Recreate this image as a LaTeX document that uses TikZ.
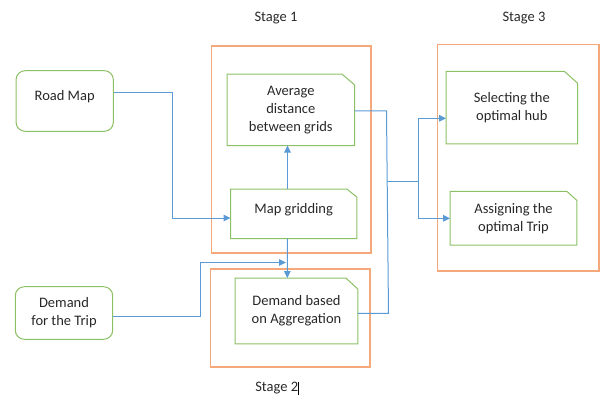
\documentclass[tikz,border=0pt]{standalone}
\usepackage{fontspec}
\setmainfont{Carlito}
\usetikzlibrary{arrows.meta}
\definecolor{orng}{RGB}{245,168,122}
\definecolor{grn}{RGB}{140,192,100}
\definecolor{blu}{RGB}{91,155,213}
\definecolor{txt}{RGB}{40,40,40}
\begin{document}
\begin{tikzpicture}[x=1pt,y=-1pt,
  font=\fontsize{14.5}{18}\selectfont, text=txt,
  stagebox/.style={draw=orng, line width=1.3pt, inner sep=0pt},
  proc/.style={inner sep=0pt, align=center},
  procline/.style={draw=grn, line width=1pt},
  src/.style={draw=grn, line width=1pt, rounded corners=9pt, align=center, inner sep=0pt},
  conn/.style={draw=blu, line width=1pt},
  arr/.style={conn, -{Triangle[length=7pt,width=6.5pt]}},
  lbl/.style={inner sep=0pt}
]
\useasboundingbox (0,0) rectangle (603,396);

% stage frames
\node[stagebox, minimum width=159.3, minimum height=207] (s1) at (291.3,149.5) {};
\node[stagebox, minimum width=159.3, minimum height=98] (s2) at (290.3,318) {};
\node[stagebox, minimum width=161.3, minimum height=226.3] (s3) at (518.3,157.8) {};

% stage labels
\node[lbl] (l1) at (276,18.3) {Stage 1};
\node[lbl] (l3) at (524,18.3) {Stage 3};
\node[lbl] (l2) at (276.7,387.7) {Stage 2};
\draw[black, line width=0.7pt] (298.5,381.5) -- (298.5,395);

% source nodes
\node[src, minimum width=97.3, minimum height=60.6, text depth=11.5pt] (road) at (64.7,101) {Road Map};
\node[src, minimum width=97.4, minimum height=52.6] (dem) at (64,313) {Demand\\for the Trip};

% process nodes
\node[proc, minimum width=127, minimum height=71] (avg) at (290.8,109.8) {Average\\distance\\between grids};
\node[proc, minimum width=126, minimum height=49, text depth=10.5pt] (grid) at (293.7,213.8) {Map gridding};
\node[proc, minimum width=122.4, minimum height=65.4] (agg) at (296.5,311) {Demand based\\on Aggregation};
\node[proc, minimum width=131, minimum height=72] (hub) at (511.8,107.7) {Selecting the\\optimal hub};
\node[proc, minimum width=126.4, minimum height=53.3] (trip) at (513.5,218.3) {Assigning the\\optimal Trip};

\foreach \n/\cx/\cy in {avg/12.6/10.7, grid/10/8, agg/12/11, hub/13/11.6, trip/10/9}
  \draw[procline] (\n.south west) -- (\n.north west) -- ([xshift=-\cx pt]\n.north east)
     -- ([yshift=-\cy pt]\n.north east) -- (\n.south east) -- cycle;

% connectors
\draw[arr] ([yshift=8.7pt]road.east) -- (172.3,92.3) -- (172.3,218) -- ([yshift=-4.2pt]grid.west);
\draw[arr] ([xshift=-6.2pt]grid.north) -- ([xshift=-3.3pt]avg.south);
\draw[arr] ([xshift=-6.2pt]grid.south) -- ([xshift=-9.2pt]agg.north);
\coordinate (m) at (286,262.5);
\draw[arr] ([yshift=-3pt]dem.east) -- (200,316) -- (200,262.5) -- (m);
\draw[conn] ([yshift=-1.2pt]avg.east) -- (386.5,111) -- (388.5,313.3) -- ([yshift=-2.3pt]agg.east);
\coordinate (j) at (387.3,181);
\coordinate (k) at (418.3,181);
\draw[conn] (j) -- (k);
\draw[arr] (k) |- ([yshift=-10.6pt]hub.west);
\draw[arr] (k) |- (trip.west);
\end{tikzpicture}
\end{document}
